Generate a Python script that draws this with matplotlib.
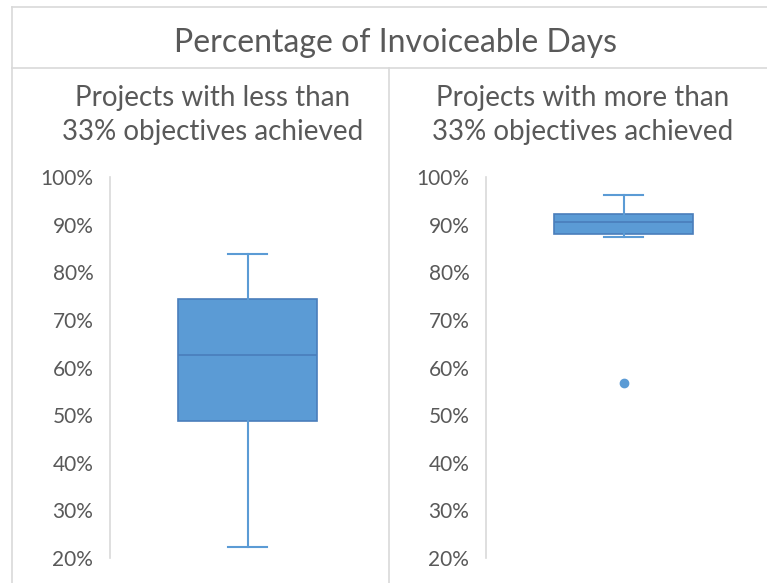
import matplotlib
matplotlib.use("Agg")

import matplotlib.pyplot as plt
from matplotlib.lines import Line2D

# Data (in %)
panel_titles = ["Projects with less than\n33% objectives achieved",
                "Projects with more than\n33% objectives achieved"]
whislo = [22.3, 87.3]
q1 = [48.8, 88.1]
med = [62.6, 90.6]
q3 = [74.4, 92.3]
whishi = [83.9, 96.3]
fliers = [[], [56.8]]
yticks = [20, 30, 40, 50, 60, 70, 80, 90, 100]

box_fill = "#5B9BD5"
box_edge = "#4A7EBB"
grey_text = "#595959"
line_grey = "#D9D9D9"

plt.rcParams["font.family"] = ["Lato", "DejaVu Sans"]

fig = plt.figure(figsize=(7.67, 5.83), dpi=100)
W, H = 767, 583

def fx(px):
    return px / W

def fy(py):
    return 1 - py / H

# frame lines
fig.add_artist(Line2D([fx(12), 1], [fy(7), fy(7)], color=line_grey, lw=1.2))
fig.add_artist(Line2D([fx(12), fx(12)], [fy(7), 0], color=line_grey, lw=1.2))
fig.add_artist(Line2D([fx(12), 1], [fy(68), fy(68)], color=line_grey, lw=1.2))
fig.add_artist(Line2D([fx(389), fx(389)], [fy(68), 0], color=line_grey, lw=1.2))

fig.text(fx(396), fy(43), "Percentage of Invoiceable Days", ha="center", va="center",
         fontsize=23, color=grey_text)

ax_left = [110, 486]
ax_w = 275
title_x = [213, 583]
for i in range(2):
    ax = fig.add_axes([fx(ax_left[i]), fy(558), fx(ax_w), fy(177) - fy(558)])
    stats = [{"whislo": whislo[i], "q1": q1[i], "med": med[i], "q3": q3[i],
              "whishi": whishi[i], "fliers": fliers[i]}]
    ax.bxp(stats, positions=[0.5], widths=0.505, patch_artist=True, showcaps=True,
           boxprops=dict(facecolor=box_fill, edgecolor=box_edge, linewidth=1.2),
           medianprops=dict(color=box_edge, linewidth=1.2),
           whiskerprops=dict(color=box_fill, linewidth=1.5),
           capprops=dict(color=box_fill, linewidth=1.5),
           capwidths=0.145,
           flierprops=dict(marker="o", markerfacecolor=box_fill, markeredgecolor=box_fill,
                           markersize=6))
    ax.set_xlim(0, 1)
    ax.set_ylim(20, 100)
    ax.set_yticks(yticks)
    ax.set_yticklabels([f"{t}%" for t in yticks])
    ax.set_xticks([])
    for s in ["top", "right", "bottom"]:
        ax.spines[s].set_visible(False)
    ax.spines["left"].set_color(line_grey)
    ax.spines["left"].set_linewidth(1.2)
    ax.tick_params(axis="y", length=0, pad=12, labelsize=15, labelcolor=grey_text)
    ax.set_facecolor("none")
    fig.text(fx(title_x[i]), fy(115), panel_titles[i], ha="center", va="center",
             fontsize=20, color=grey_text, linespacing=1.38)

fig.savefig("out.png", dpi=100)
